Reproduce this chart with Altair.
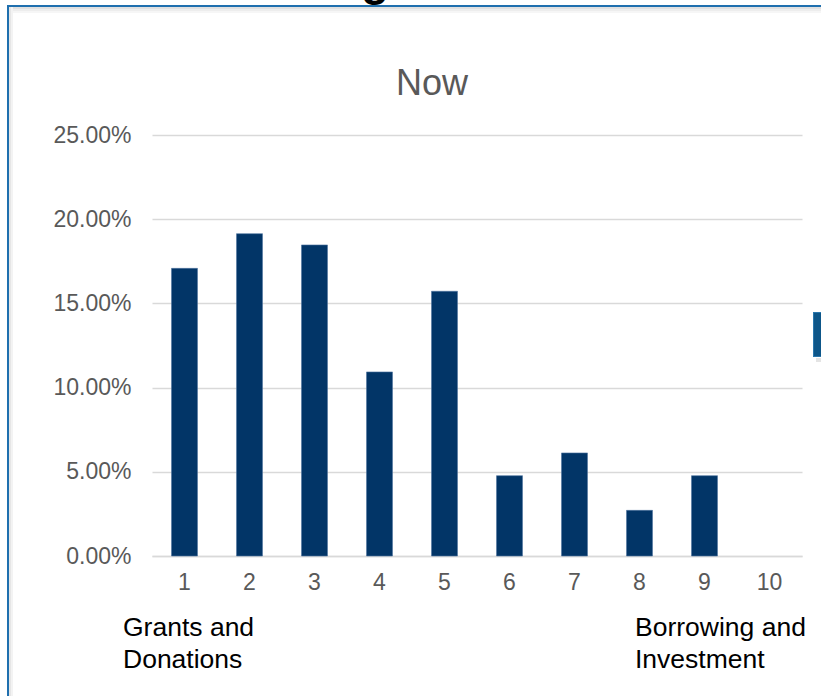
import altair as alt
import pandas as pd

categories = [str(i) for i in range(1, 11)]
values = [0.1708, 0.1914, 0.1847, 0.1093, 0.1572, 0.0477, 0.0612, 0.0271, 0.0477, 0.0]
y_ticks = [0.0, 0.05, 0.10, 0.15, 0.20, 0.25]
title_text = "Now"
left_note = "Grants and\nDonations"
right_note = "Borrowing and\nInvestment"

df = pd.DataFrame({"cat": categories, "val": values})
one = pd.DataFrame({"k": [0]})

FONT = "Liberation Sans"
W, H = 650, 421
L, T = 152, 135

bars = alt.Chart(df).mark_bar(size=26, color="#023567").encode(
    x=alt.X("cat:O", sort=categories, title=None,
            scale=alt.Scale(paddingInner=0, paddingOuter=0),
            axis=alt.Axis(labelAngle=0, ticks=False, domain=True, domainColor="#d9d9d9",
                          domainWidth=1.5, labelFontSize=23, labelColor="#595959",
                          labelFont=FONT, labelPadding=15)),
    y=alt.Y("val:Q", title=None, scale=alt.Scale(domain=[0, 0.25], nice=False),
            axis=alt.Axis(values=y_ticks, format=".2%", grid=True, gridColor="#d9d9d9",
                          gridWidth=1.5, domain=False, ticks=False, labelFontSize=23,
                          labelColor="#595959", labelFont=FONT, labelPadding=21)),
    stroke=alt.condition(alt.datum.val > 0, alt.value("#4f74a0"), alt.value(None)),
    strokeWidth=alt.value(0.6),
)

base = alt.Chart(one)

def rect(x1, x2, y1, y2, color, opacity=1.0):
    return base.mark_rect(color=color, opacity=opacity).encode(
        x=alt.value(x1 - L), x2=alt.value(x2 - L),
        y=alt.value(y1 - T), y2=alt.value(y2 - T))

decor = [
    # shadows
    rect(9, 821, 7, 9, "#e0e0e0"),
    rect(9, 821, 9, 11, "#ededed"),
    rect(9, 821, 11, 13, "#f6f6f6"),
    rect(9, 11, 7, 696, "#e6e6e6"),
    rect(11, 13, 7, 696, "#f3f3f3"),
    # frame
    rect(7, 821, 5, 7, "#1f6fae"),
    rect(7, 9, 5, 696, "#1f6fae"),
    # right side block
    rect(816, 821, 358, 362, "#e4e4e4"),
    rect(813, 821, 312, 357, "#2a77ad"),
    rect(814, 821, 313, 356, "#0d5689"),
]

g_text = base.mark_text(text="g", font=FONT, fontSize=46, fontWeight="bold", color="#000000",
                        align="center", baseline="alphabetic").encode(
    x=alt.value(375 - L), y=alt.value(-5 - T))

title = base.mark_text(text=title_text, font=FONT, fontSize=36, color="#595959",
                       align="center", baseline="alphabetic").encode(
    x=alt.value(432 - L), y=alt.value(95 - T))

notes = pd.DataFrame({"t": [left_note, right_note], "px": [123 - L, 635 - L]})
note_marks = alt.Chart(notes).mark_text(font=FONT, fontSize=26.5, color="#000000", align="left",
                                        baseline="alphabetic", lineBreak="\n", lineHeight=32).encode(
    text="t:N", x=alt.X("px:Q", scale=None), y=alt.value(636 - T))

chart = alt.layer(*decor, g_text, title, bars, note_marks).properties(
    width=W, height=H,
    autosize=alt.AutoSizeParams(type="none"),
    padding={"left": L, "top": T, "right": 821 - L - W, "bottom": 696 - T - H},
    background="white",
).configure_view(stroke=None)

chart.save("out.html", embed_options={"renderer": "svg", "actions": False})
